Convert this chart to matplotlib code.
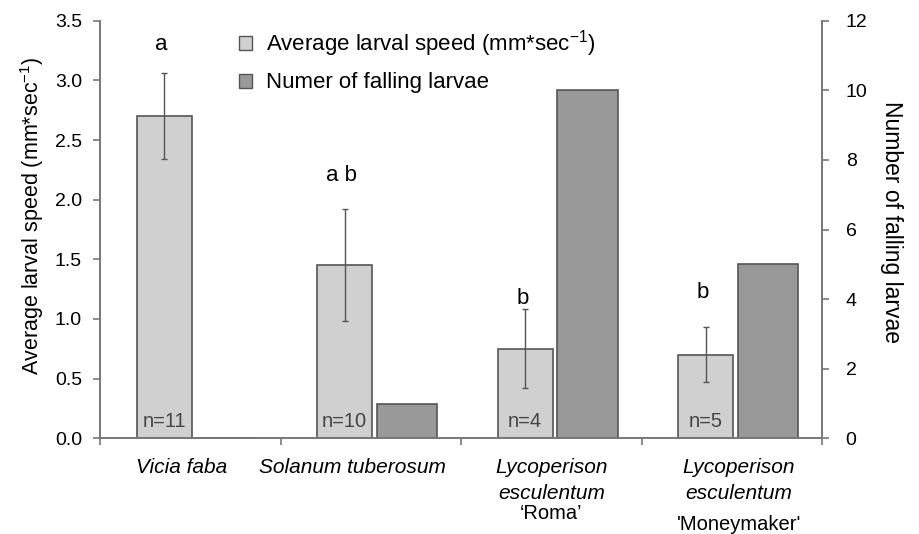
import matplotlib.pyplot as plt
import numpy as np
from matplotlib.patches import Patch

plt.rcParams['font.family'] = ['Liberation Sans', 'DejaVu Sans']
plt.rcParams['mathtext.fontset'] = 'custom'
plt.rcParams['mathtext.rm'] = 'Liberation Sans'
plt.rcParams['mathtext.it'] = 'Liberation Sans:italic'
plt.rcParams['axes.unicode_minus'] = False

species = ['Vicia faba', 'Solanum tuberosum', 'Lycoperison\nesculentum', 'Lycoperison\nesculentum']
cultivar = ['', '', '\u2018Roma\u2019', '\'Moneymaker\'']
speed = [2.70, 1.45, 0.75, 0.70]
speed_err = [0.36, 0.47, 0.33, 0.23]
falling = [0, 1, 10, 5]
n_labels = ['n=11', 'n=10', 'n=4', 'n=5']
letters = ['a', 'a b', 'b', 'b']
letter_y = [3.3, 2.2, 1.17, 1.22]

light = '#d0d0d0'
dark = '#999999'
edge = '#555555'
axcol = '#777777'

fig = plt.figure(figsize=(9.2, 5.34), dpi=100)
ax = fig.add_axes([0.1087, 0.1792, 0.7848, 0.782])
ax2 = ax.twinx()

x = np.arange(len(species)) + 0.5
ax.bar(x - 0.145, speed, 0.305, color=light, edgecolor=edge, linewidth=1.2, zorder=2)
ax.errorbar(x - 0.145, speed, yerr=speed_err, fmt='none', ecolor='#555555',
            elinewidth=1, capsize=2.5, capthick=1, zorder=3)
ax2.bar(x + 0.2, falling, 0.335, color=dark, edgecolor=edge, linewidth=1.2, zorder=2)

for xi, lab in zip(x, n_labels):
    ax.text(xi - 0.145, 0.14, lab, ha='center', va='center', fontsize=14.5, color='#444444', zorder=4)
for xi, lab, ly in zip(x, letters, letter_y):
    ax.text(xi - 0.16, ly, lab, ha='center', va='center', fontsize=16, zorder=4)

ax.set_xlim(0, 4)
ax.set_ylim(0, 3.5)
ax2.set_ylim(0, 12)
ax.set_yticks(np.arange(0, 3.51, 0.5))
ax.set_yticklabels(['%.1f' % v for v in np.arange(0, 3.51, 0.5)])
ax2.set_yticks(np.arange(0, 13, 2))
ax.set_xticks(np.arange(0, 5))
ax.set_xticklabels([])

# category labels, line by line (offsets in points from the x axis)
lab_dx = [-6.5, -13, 0, 5]
sp_off = [-21, -40]
cv_off = [0, 0, -54, -62]
for i, (xi, sp, cv) in enumerate(zip(x, species, cultivar)):
    for j, line in enumerate(sp.split('\n')):
        ax.annotate(line, (xi, 0), xycoords=('data', 'axes fraction'),
                    xytext=(lab_dx[i], sp_off[j]), textcoords='offset points',
                    ha='center', va='center', fontsize=15, style='italic')
    if cv:
        ax.annotate(cv, (xi, 0), xycoords=('data', 'axes fraction'),
                    xytext=(lab_dx[i], cv_off[i]), textcoords='offset points',
                    ha='center', va='center', fontsize=14.5)

for a in (ax, ax2):
    a.spines['top'].set_visible(False)
    for s in ('left', 'right', 'bottom'):
        a.spines[s].set_color(axcol)
        a.spines[s].set_linewidth(1.2)
    a.tick_params(colors=axcol, labelcolor='black', labelsize=14, length=5, width=1.2)
ax.tick_params(axis='y', pad=8)
ax2.tick_params(axis='y', pad=12)

ax.set_ylabel('Average larval speed (mm*sec$^{-1}$)', fontsize=15.5)
ax.yaxis.set_label_coords(-0.075, 0.532)
ax2.set_ylabel('Number of falling larvae', fontsize=16.5, rotation=-90)
ax2.yaxis.set_label_coords(1.112, 0.518)

handles = [Patch(facecolor=light, edgecolor=edge, linewidth=1),
           Patch(facecolor=dark, edgecolor=edge, linewidth=1)]
ax.legend(handles, ['Average larval speed (mm*sec$^{-1}$)', 'Numer of falling larvae'],
          loc='upper left', bbox_to_anchor=(0.165, 1.03), frameon=False, fontsize=16,
          handlelength=0.6, handleheight=0.6, handletextpad=0.6, labelspacing=0.6)

fig.savefig('out.png', dpi=100)
